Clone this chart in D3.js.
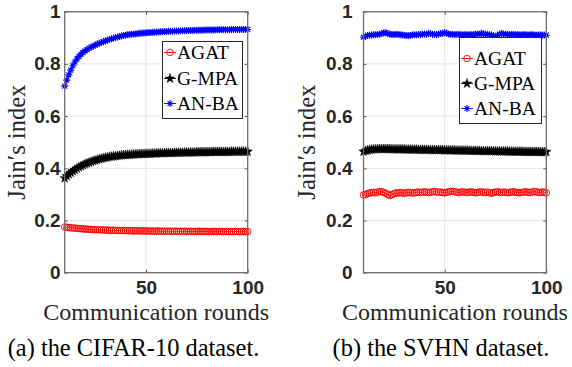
<!DOCTYPE html>
<html><head><meta charset="utf-8">
<script src="https://cdn.jsdelivr.net/npm/d3@7"></script>
<style>html,body{margin:0;padding:0;background:#fff;} svg{display:block;}</style>
</head><body>
<svg id="chart" width="572" height="367"></svg>
<script>
// ---- data ----
const rounds = d3.range(10, 101);           // communication rounds 10..100
const seriesNames = ["AGAT", "G-MPA", "AN-BA"];
const yTickValues = [0, 0.2, 0.4, 0.6, 0.8, 1];
const yTickLabels = ["0", "0.2", "0.4", "0.6", "0.8", "1"];
const xTickValues = [50, 100];
const xTickLabels = ["50", "100"];
const yTitle = "Jain\u2032s index";
const xTitle = "Communication rounds";
const captions = ["(a) the CIFAR-10 dataset.", "(b) the SVHN dataset."];

// CIFAR-10, rounds 10..100
const cifarAGAT = [
 .175,.174,.173,.172,.171,.171,.170,.169,.169,.168,
 .167,.167,.166,.166,.165,.165,.165,.164,.164,.164,
 .163,.163,.163,.162,.163,.162,.162,.162,.161,.162,
 .161,.161,.161,.161,.160,.161,.160,.160,.160,.160,
 .160,.160,.159,.160,.159,.159,.160,.159,.159,.159,
 .159,.159,.159,.158,.159,.159,.158,.159,.158,.159,
 .158,.158,.159,.158,.158,.158,.159,.158,.158,.158,
 .158,.157,.158,.158,.158,.157,.158,.158,.157,.158,
 .158,.157,.158,.157,.158,.158,.157,.158,.158,.157,
 .158];
const cifarGMPA = [
 .362,.370,.377,.383,.389,.394,.399,.404,.408,.412,
 .416,.419,.422,.425,.428,.430,.433,.435,.437,.439,
 .441,.442,.444,.445,.446,.447,.448,.449,.450,.451,
 .451,.452,.452,.453,.453,.454,.454,.455,.455,.455,
 .456,.456,.456,.457,.457,.457,.458,.458,.458,.458,
 .459,.459,.459,.459,.460,.460,.460,.460,.460,.461,
 .461,.461,.461,.461,.461,.462,.462,.462,.462,.462,
 .462,.462,.462,.463,.463,.463,.463,.463,.463,.463,
 .463,.463,.464,.464,.464,.464,.464,.464,.464,.464,
 .464];
const cifarANBA = [
 .715,.738,.758,.776,.793,.807,.819,.829,.837,.844,
 .850,.855,.860,.864,.868,.872,.876,.879,.882,.885,
 .888,.891,.894,.896,.899,.901,.903,.905,.907,.909,
 .910,.912,.913,.914,.915,.915,.916,.917,.918,.918,
 .919,.920,.920,.921,.921,.922,.922,.923,.923,.924,
 .924,.925,.925,.925,.926,.926,.926,.927,.927,.927,
 .928,.928,.928,.928,.929,.929,.929,.929,.929,.930,
 .930,.930,.930,.930,.930,.931,.931,.931,.931,.931,
 .931,.931,.932,.932,.932,.932,.932,.932,.932,.932,
 .932];

// SVHN, rounds 10..100
const svhnAGAT = [
 .298,.300,.303,.305,.307,.308,.306,.309,.311,.310,
 .307,.304,.300,.296,.299,.303,.306,.305,.307,.306,
 .304,.306,.308,.307,.305,.306,.308,.309,.307,.308,
 .310,.309,.307,.308,.310,.311,.309,.308,.309,.307,
 .306,.308,.310,.311,.312,.310,.308,.307,.309,.310,
 .308,.307,.309,.310,.308,.306,.307,.309,.310,.308,
 .307,.309,.306,.304,.307,.309,.310,.308,.307,.309,
 .308,.306,.308,.309,.310,.308,.307,.306,.308,.309,
 .310,.308,.307,.309,.311,.310,.308,.307,.309,.308,
 .306];
const svhnGMPA = [
 .464,.467,.469,.471,.472,.473,.473,.474,.474,.474,
 .474,.474,.474,.474,.473,.473,.473,.473,.473,.473,
 .473,.472,.472,.472,.472,.472,.472,.471,.471,.471,
 .471,.471,.471,.470,.470,.470,.470,.470,.470,.470,
 .469,.469,.469,.469,.469,.469,.468,.468,.468,.468,
 .468,.468,.467,.467,.467,.467,.467,.467,.466,.466,
 .466,.466,.466,.466,.466,.465,.465,.465,.465,.465,
 .465,.465,.464,.464,.464,.464,.464,.464,.464,.463,
 .463,.463,.463,.463,.463,.463,.463,.462,.462,.462,
 .463];
const svhnANBA = [
 .902,.906,.909,.910,.911,.912,.912,.913,.914,.916,
 .919,.920,.916,.914,.913,.912,.914,.913,.912,.911,
 .910,.909,.908,.909,.911,.912,.911,.913,.912,.914,
 .915,.913,.917,.916,.913,.914,.912,.915,.916,.917,
 .920,.917,.915,.913,.914,.912,.913,.914,.912,.911,
 .913,.912,.912,.913,.911,.914,.915,.913,.917,.916,
 .914,.913,.912,.911,.908,.905,.909,.914,.917,.915,
 .914,.913,.912,.914,.913,.912,.913,.911,.912,.913,
 .912,.911,.912,.913,.911,.910,.911,.912,.910,.911,
 .910];

// ---- styles / layout ----
const colors = {"AGAT": "#ff0000", "G-MPA": "#000000", "AN-BA": "#0000ff"};
const serif = "'Liberation Serif','Times New Roman',Times,serif";
const sans = "'Liberation Sans',Arial,Helvetica,sans-serif";

const panels = [
  {x0: 64.7, x1: 247.7, ylabPad: 4, ytitleX: 17, legend: {x: 162.5, y: 41.5, w: 80, h: 77, rowY: [59, 85, 110]},
   values: [cifarAGAT, cifarGMPA, cifarANBA], caption: captions[0], capX: 133.5},
  {x0: 363.5, x1: 546.3, ylabPad: 11, ytitleX: 307, legend: {x: 459.5, y: 37.5, w: 82, h: 86, rowY: [65, 90, 115]},
   values: [svhnAGAT, svhnGMPA, svhnANBA], caption: captions[1], capX: 441}
];
const yTop = 11.7, yBot = 272.7;

const svg = d3.select("#chart");

function drawMarker(g, name, cx, cy) {
  const c = colors[name];
  if (name === "AGAT") {
    g.append("circle").attr("cx", cx).attr("cy", cy).attr("r", 3.3)
      .attr("fill", "none").attr("stroke", c).attr("stroke-width", 0.9);
  } else if (name === "G-MPA") {
    g.append("path").attr("transform", `translate(${cx},${cy})`)
      .attr("d", d3.symbol(d3.symbolStar, 28)()).attr("fill", c).attr("stroke", c).attr("stroke-width", 0.5);
  } else {
    const r = 3.5;
    let d = "";
    [0, 45, 90, 135].forEach(a => {
      const t = a * Math.PI / 180, dx = r * Math.cos(t), dy = r * Math.sin(t);
      d += `M${cx - dx},${cy - dy}L${cx + dx},${cy + dy}`;
    });
    g.append("path").attr("d", d).attr("stroke", c).attr("stroke-width", 1.1).attr("fill", "none");
  }
}

panels.forEach(p => {
  const x = d3.scaleLinear().domain([10, 100]).range([p.x0, p.x1]);
  const y = d3.scaleLinear().domain([0, 1]).range([yBot, yTop]);
  const g = svg.append("g");

  // grid
  g.selectAll(".gy").data(yTickValues.filter(v => v > 0 && v < 1)).enter().append("line")
    .attr("x1", p.x0).attr("x2", p.x1).attr("y1", d => y(d)).attr("y2", d => y(d))
    .attr("stroke", "#e4e4e4").attr("stroke-width", 1);
  g.selectAll(".gx").data(xTickValues.filter(v => v < 100)).enter().append("line")
    .attr("x1", d => x(d)).attr("x2", d => x(d)).attr("y1", yTop).attr("y2", yBot)
    .attr("stroke", "#e4e4e4").attr("stroke-width", 1);

  // series
  seriesNames.forEach((name, i) => {
    const vals = p.values[i];
    const pts = rounds.map((r, k) => [x(r), y(vals[k])]);
    g.append("path").attr("d", d3.line()(pts)).attr("fill", "none")
      .attr("stroke", colors[name]).attr("stroke-width", 0.9);
    const mg = g.append("g");
    pts.forEach(pt => drawMarker(mg, name, pt[0], pt[1]));
  });

  // axes
  const axL = d3.axisLeft(y).tickValues(yTickValues).tickFormat((d, i) => yTickLabels[i])
    .tickSizeInner(-3).tickSizeOuter(0).tickPadding(p.ylabPad);
  const axB = d3.axisBottom(x).tickValues(xTickValues).tickFormat((d, i) => xTickLabels[i])
    .tickSizeInner(-3).tickSizeOuter(0).tickPadding(8);
  const axR = d3.axisRight(y).tickValues(yTickValues).tickFormat("").tickSizeInner(-3).tickSizeOuter(0);
  const axT = d3.axisTop(x).tickValues(xTickValues).tickFormat("").tickSizeInner(-3).tickSizeOuter(0);

  [[axL, `translate(${p.x0},0)`, "L"], [axB, `translate(0,${yBot})`, "B"], [axR, `translate(${p.x1},0)`, "R"], [axT, `translate(0,${yTop})`, "T"]]
    .forEach(([ax, tr, side]) => {
      const a = g.append("g").attr("transform", tr).call(ax);
      a.select(".domain").remove();
      a.selectAll("line").attr("stroke", "#555").attr("stroke-width", 1);
      a.selectAll("text").attr("fill", "#262626").attr("font-family", sans)
        .attr("font-weight", "bold").attr("font-size", 19);
      if (side === "B") a.selectAll("text").attr("dy", "0.72em");
    });

  // box
  g.append("rect").attr("x", p.x0).attr("y", yTop).attr("width", p.x1 - p.x0).attr("height", yBot - yTop)
    .attr("fill", "none").attr("stroke", "#6e6e6e").attr("stroke-width", 1.3);

  // titles
  g.append("text").attr("x", (p.x0 + p.x1) / 2).attr("y", 319.5).attr("text-anchor", "middle")
    .attr("font-family", serif).attr("font-size", 24).attr("fill", "#262626").text(xTitle);
  g.append("text").attr("transform", `translate(${p.ytitleX + 8},${(yTop + yBot) / 2}) rotate(-90)`)
    .attr("text-anchor", "middle").attr("font-family", serif).attr("font-size", 24.5)
    .attr("fill", "#262626").text(yTitle);

  // caption
  g.append("text").attr("x", p.capX).attr("y", 356).attr("text-anchor", "middle")
    .attr("font-family", serif).attr("font-size", 24.4).attr("fill", "#000").text(p.caption);

  // legend
  const L = p.legend;
  const lg = g.append("g");
  lg.append("rect").attr("x", L.x).attr("y", L.y).attr("width", L.w).attr("height", L.h)
    .attr("fill", "#fff").attr("stroke", "#262626").attr("stroke-width", 1);
  seriesNames.forEach((name, i) => {
    const cy = L.rowY[i] - 6.5;
    lg.append("line").attr("x1", L.x + 1.5).attr("x2", L.x + 13.5).attr("y1", cy).attr("y2", cy)
      .attr("stroke", colors[name]).attr("stroke-width", 0.9);
    drawMarker(lg, name, L.x + 7.5, cy);
    lg.append("text").attr("x", L.x + 14.5).attr("y", L.rowY[i]).attr("font-family", serif)
      .attr("font-size", 19.5).attr("fill", "#000").text(name);
  });
});
</script>
</body></html>
